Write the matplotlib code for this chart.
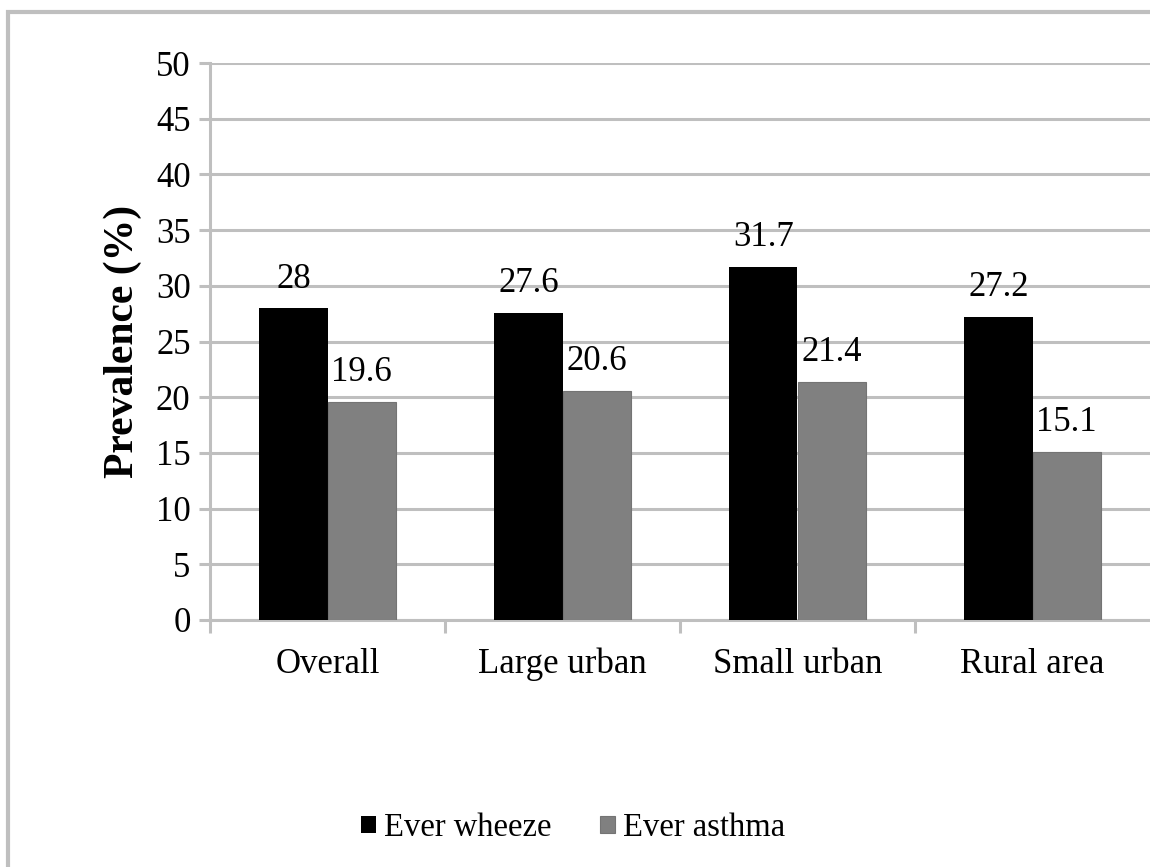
import matplotlib
matplotlib.use('Agg')
import matplotlib.pyplot as plt
import numpy as np
from matplotlib.patches import Rectangle

# Prevalence of wheeze and asthma by area
categories = ['Overall', 'Large urban', 'Small urban', 'Rural area']
ever_wheeze = [28, 27.6, 31.7, 27.2]
ever_asthma = [19.6, 20.6, 21.4, 15.1]
wheeze_labels = ['28', '27.6', '31.7', '27.2']
asthma_labels = ['19.6', '20.6', '21.4', '15.1']

plt.rcParams['font.family'] = ['Liberation Serif', 'DejaVu Serif']

grid_col = '#bfbfbf'
fs = 25
fig = plt.figure(figsize=(11.5, 8.67), dpi=100)

# outer chart frame (runs off the right/bottom edge)
fig.patches.append(Rectangle((8 / 1150, -0.05), 1.2, 1 - 12 / 867 + 0.05,
                             transform=fig.transFigure, fill=False,
                             edgecolor=grid_col, linewidth=3))

ax = fig.add_axes([210 / 1150, 1 - 620 / 867, 1 - 210 / 1150, (620 - 63) / 867])

x = np.arange(len(categories))
w = 0.29
b1 = ax.bar(x - w / 2, ever_wheeze, w, color='black', label='Ever wheeze', zorder=3)
b2 = ax.bar(x + w / 2, ever_asthma, w, color='#808080', edgecolor='#747474',
            linewidth=0.8, label='Ever asthma', zorder=3)

for bars, labs in ((b1, wheeze_labels), (b2, asthma_labels)):
    for bar, lab in zip(bars, labs):
        ax.annotate(lab, (bar.get_x() + bar.get_width() / 2, bar.get_height()),
                    xytext=(0, 9), textcoords='offset points',
                    ha='center', va='bottom', fontsize=fs)

ax.set_ylim(0, 50)
ax.set_yticks(range(0, 51, 5))
ax.set_xlim(-0.5, len(categories) - 0.5)
ax.yaxis.grid(True, color=grid_col, linewidth=2.2, zorder=0)
ax.set_axisbelow(True)

# category boundaries carry the ticks, names sit at the centres
ax.set_xticks(np.arange(-0.5, len(categories) - 1, 1.0))
ax.set_xticklabels([])
ax.set_xticks(x, minor=True)
ax.set_xticklabels(categories, minor=True, fontsize=fs)
ax.tick_params(axis='x', which='minor', length=0, pad=20)
ax.tick_params(axis='x', which='major', length=9, width=2.2, color=grid_col)
ax.tick_params(axis='y', length=8, width=2.2, color=grid_col, labelsize=fs, pad=6)

for s in ('top', 'right'):
    ax.spines[s].set_visible(False)
for s in ('left', 'bottom'):
    ax.spines[s].set_color(grid_col)
    ax.spines[s].set_linewidth(2.2)

ax.set_ylabel('Prevalence (%)', fontsize=30, fontweight='bold', labelpad=10)

fig.legend(handles=[b1, b2], loc='center', bbox_to_anchor=(573 / 1150, 1 - 828 / 867),
           ncol=2, frameon=False, fontsize=23.5, handlelength=0.45, handleheight=0.45,
           handletextpad=0.25, columnspacing=1.5)

fig.savefig('out.png', dpi=100)
plt.close(fig)
